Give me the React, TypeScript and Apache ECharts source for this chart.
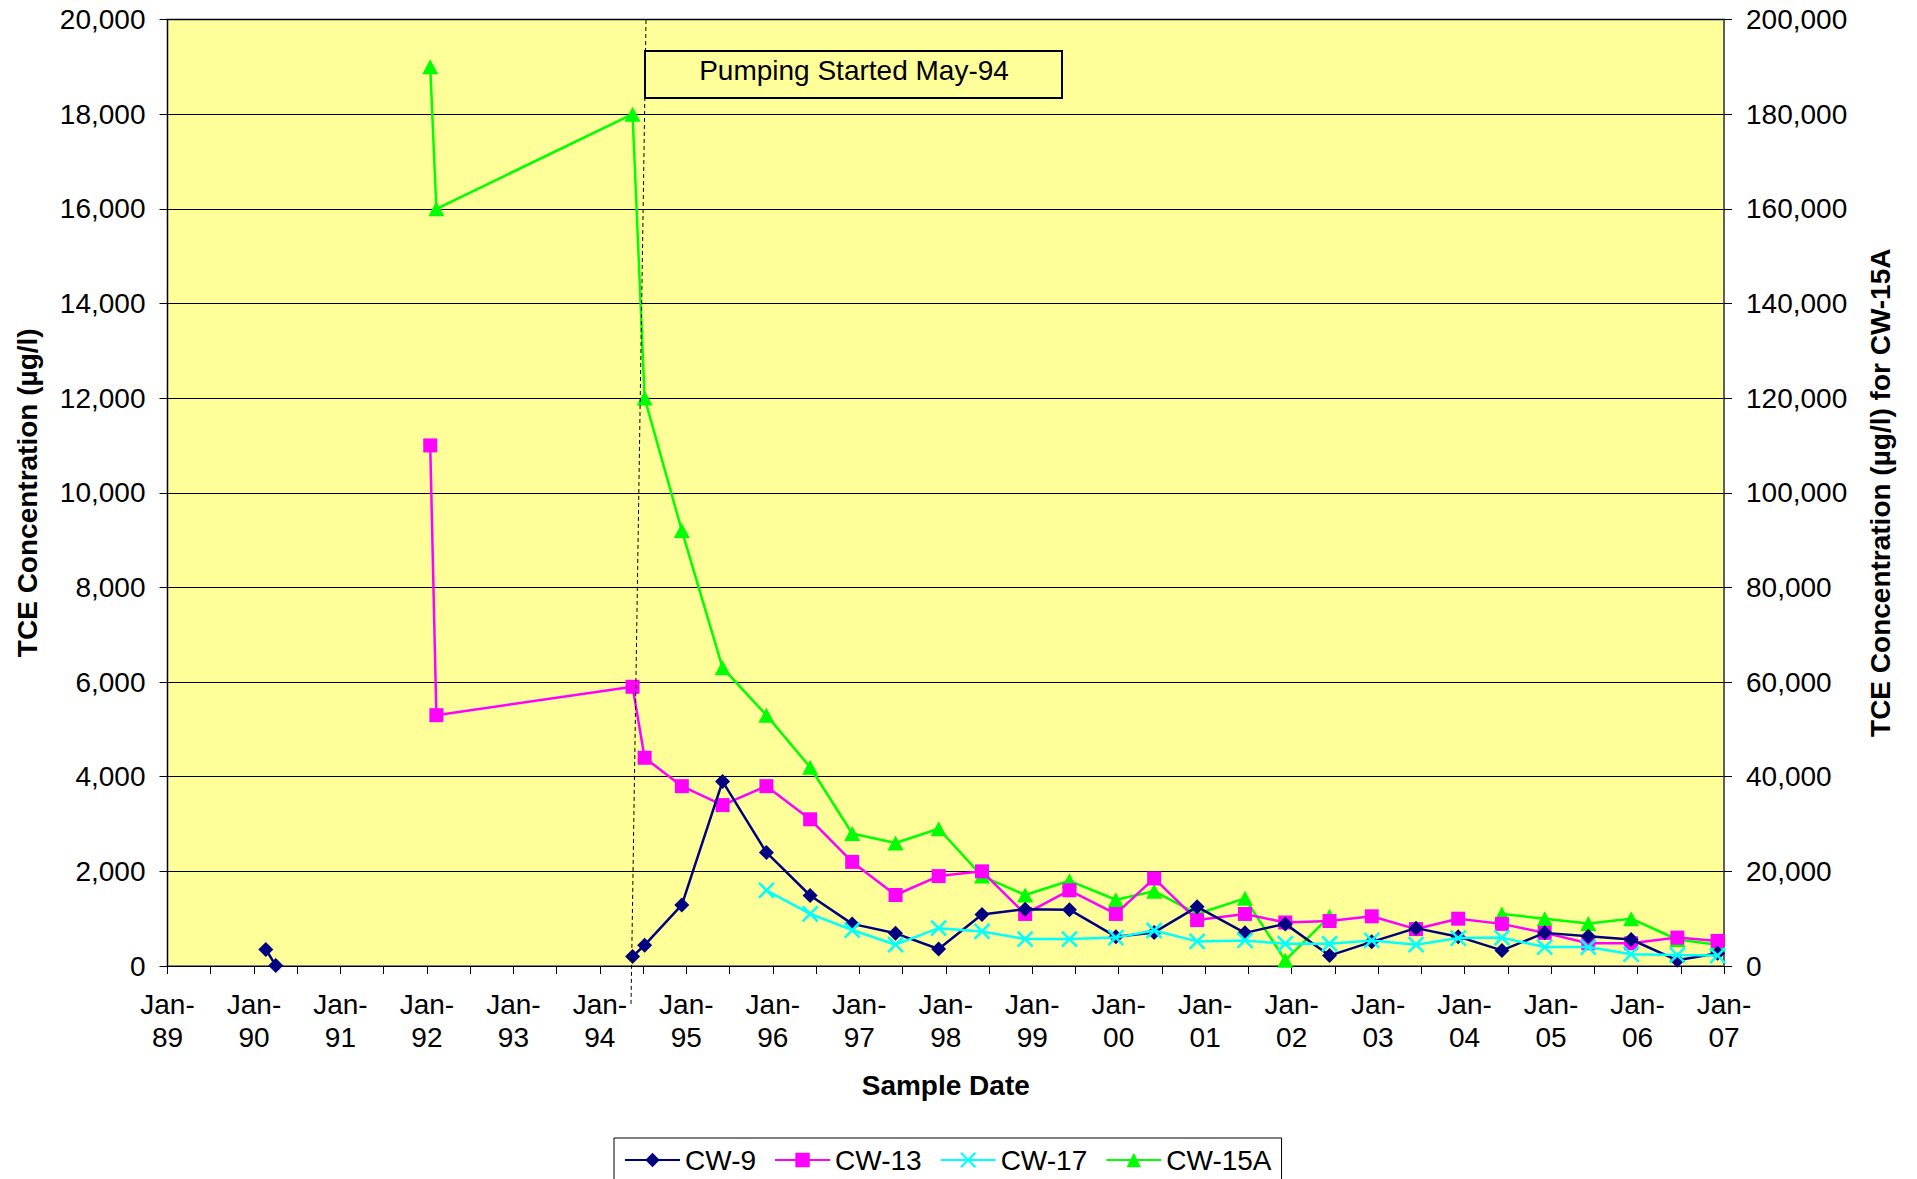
import React, { useEffect, useRef } from "react";
import * as echarts from "echarts";

const FONT = '"Liberation Sans", Arial, Helvetica, sans-serif';

// Sample dates (YYYY-MM-DD)
const sampleDates = [
  "1990-02-20", "1990-04-03", "1992-01-15", "1992-02-10", "1994-05-19", "1994-07-09",
  "1994-12-13", "1995-06-03", "1995-12-05", "1996-06-07", "1996-12-02", "1997-06-03",
  "1997-12-02", "1998-06-03", "1998-12-02", "1999-06-07", "1999-12-20", "2000-05-30",
  "2000-11-28", "2001-06-18", "2001-12-05", "2002-06-10", "2002-12-05", "2003-06-10",
  "2003-12-05", "2004-06-07", "2004-12-05", "2005-06-07", "2005-12-05", "2006-06-18",
  "2006-12-05",
];

// TCE concentration (ug/l), null = no sample
const cw9 = [
  350, 10, null, null, 200, 440, 1290, 3900, 2400, 1490, 890, 690, 360, 1090, 1200, 1190,
  620, 710, 1250, 700, 890, 220, 510, 800, 620, 330, 700, 630, 560, 120, 270,
];
const cw13 = [
  null, null, 11000, 5300, 5900, 4400, 3800, 3400, 3800, 3100, 2200, 1500, 1900, 2000, 1100, 1600,
  1100, 1850, 970, 1100, 920, 950, 1050, 780, 1000, 890, 700, 480, 480, 600, 530,
];
const cw17 = [
  null, null, null, null, null, null, null, null, 1600, 1100, 760, 450, 800, 730, 570, 570,
  600, 750, 520, 540, 470, 470, 540, 450, 590, 600, 400, 400, 250, 230, 220,
];
// CW-15A on the right axis
const cw15a = [
  null, null, 190000, 160000, 180000, 120000, 92000, 63000, 53000, 42000, 28000, 26000, 29000, 19000, 15000, 18000,
  14000, 15800, 11000, 14300, 1200, 10500, null, null, null, 11000, 10000, 9000, 10000, 5600, 4500,
];

const seriesNames = ["CW-9", "CW-13", "CW-17", "CW-15A"];
const xStartYear = 1989;
const xEndYear = 2007;

function toYear(d: string): number {
  const [y, m, dd] = d.split("-").map(Number);
  const start = Date.UTC(y, 0, 1);
  const end = Date.UTC(y + 1, 0, 1);
  return y + (Date.UTC(y, m - 1, dd) - start) / (end - start);
}

function pairs(vals: (number | null)[]) {
  return sampleDates.map((d, i) => [toYear(d), vals[i] == null ? null : vals[i]]);
}

export default function App() {
  const ref = useRef<HTMLDivElement>(null);

  useEffect(() => {
    if (!ref.current) return;
    const chart = echarts.init(ref.current, undefined, { renderer: "svg" });
    const axisText = { fontFamily: FONT, fontSize: 28, color: "#000" };
    const option: any = {
      animation: false,
      backgroundColor: "#fff",
      grid: {
        left: 167.5,
        right: 193,
        top: 19.5,
        bottom: 213,
        show: true,
        backgroundColor: "#FFFF99",
        borderColor: "#808080",
        borderWidth: 2,
        containLabel: false,
      },
      legend: {
        data: seriesNames,
        left: 614,
        top: 1138,
        orient: "horizontal",
        itemWidth: 55,
        itemHeight: 18,
        itemGap: 18,
        padding: [8, 10],
        borderColor: "#000",
        borderWidth: 1,
        backgroundColor: "#fff",
        textStyle: { fontFamily: FONT, fontSize: 28, color: "#000" },
      },
      xAxis: {
        type: "value",
        min: xStartYear,
        max: xEndYear,
        interval: 1,
        name: "Sample Date",
        nameLocation: "middle",
        nameGap: 119,
        nameTextStyle: { fontFamily: FONT, fontSize: 28, fontWeight: "bold", color: "#000", verticalAlign: "middle" },
        axisLine: { show: true, onZero: false, lineStyle: { color: "#000", width: 1 } },
        axisTick: { show: true, length: 8, lineStyle: { color: "#000" } },
        minorTick: { show: true, splitNumber: 2, length: 8, lineStyle: { color: "#000" } },
        splitLine: { show: false },
        axisLabel: {
          ...axisText,
          margin: 22,
          lineHeight: 33,
          formatter: (v: number) => "Jan-\n" + String(Math.round(v) % 100).padStart(2, "0"),
        },
      },
      yAxis: [
        {
          type: "value",
          min: 0,
          max: 20000,
          interval: 2000,
          position: "left",
          name: "TCE Concentration (µg/l)",
          nameLocation: "middle",
          nameGap: 140,
          nameTextStyle: { fontFamily: FONT, fontSize: 28, fontWeight: "bold", color: "#000", verticalAlign: "middle" },
          axisLine: { show: true, lineStyle: { color: "#000", width: 1 } },
          axisTick: { show: true, length: 8, lineStyle: { color: "#000" } },
          splitLine: { show: true, lineStyle: { color: "#000", width: 1 } },
          axisLabel: { ...axisText, margin: 22, formatter: (v: number) => v.toLocaleString("en-US") },
        },
        {
          type: "value",
          min: 0,
          max: 200000,
          interval: 20000,
          position: "right",
          name: "TCE Concentration (µg/l) for CW-15A",
          nameLocation: "middle",
          nameGap: 156,
          nameTextStyle: { fontFamily: FONT, fontSize: 28, fontWeight: "bold", color: "#000", verticalAlign: "middle" },
          axisLine: { show: true, lineStyle: { color: "#555", width: 1.5 } },
          axisTick: { show: true, length: 8, lineStyle: { color: "#000" } },
          splitLine: { show: false },
          axisLabel: { ...axisText, margin: 22, formatter: (v: number) => v.toLocaleString("en-US") },
        },
      ],
      series: [
        {
          name: "CW-9",
          type: "line",
          yAxisIndex: 0,
          data: pairs(cw9),
          connectNulls: false,
          symbol: "diamond",
          symbolSize: 15,
          color: "#000080",
          itemStyle: { color: "#000080" },
          lineStyle: { color: "#000080", width: 2.5 },
          z: 4,
        },
        {
          name: "CW-13",
          type: "line",
          yAxisIndex: 0,
          data: pairs(cw13),
          connectNulls: false,
          symbol: "rect",
          symbolSize: 14,
          color: "#FF00FF",
          itemStyle: { color: "#FF00FF" },
          lineStyle: { color: "#FF00FF", width: 2.5 },
          z: 3,
        },
        {
          name: "CW-17",
          type: "line",
          yAxisIndex: 0,
          data: pairs(cw17),
          connectNulls: false,
          symbol: "path://M0,0L10,10M10,0L0,10",
          symbolSize: 15,
          color: "#00FFFF",
          itemStyle: { color: "#00FFFF", borderColor: "#00FFFF", borderWidth: 2.5 },
          lineStyle: { color: "#00FFFF", width: 2.5 },
          z: 5,
        },
        {
          name: "CW-15A",
          type: "line",
          yAxisIndex: 1,
          data: pairs(cw15a),
          connectNulls: false,
          symbol: "triangle",
          symbolSize: [16, 15],
          color: "#00FF00",
          itemStyle: { color: "#00FF00" },
          lineStyle: { color: "#00FF00", width: 2.5 },
          z: 2,
        },
      ],
      graphic: [
        {
          type: "line",
          z: 100,
          shape: { x1: 646, y1: 20, x2: 631, y2: 1005 },
          style: { stroke: "#000", lineWidth: 1, lineDash: [4, 3] },
        },
        {
          type: "rect",
          z: 100,
          shape: { x: 645, y: 51, width: 417, height: 47 },
          style: { fill: "#FFFF99", stroke: "#000", lineWidth: 2 },
        },
        {
          type: "text",
          z: 101,
          x: 854,
          y: 70,
          style: {
            text: "Pumping Started May-94",
            fontFamily: FONT,
            fontSize: 28,
            fill: "#000",
            align: "center",
            verticalAlign: "middle",
          },
        },
      ],
    };
    chart.setOption(option);
    return () => chart.dispose();
  }, []);

  return (
    <div
      ref={ref}
      style={{ position: "fixed", left: 0, top: 0, width: 1917, height: 1179, background: "#fff" }}
    />
  );
}
